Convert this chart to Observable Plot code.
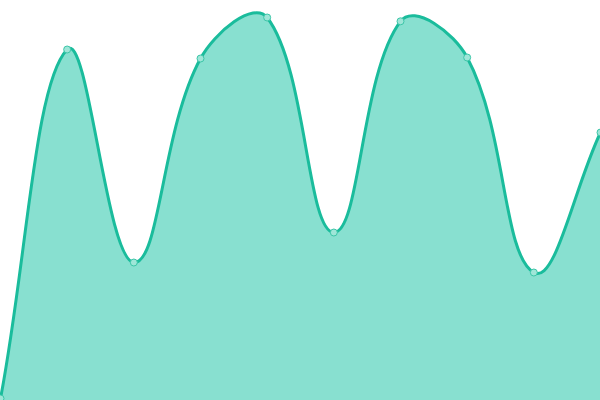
<!DOCTYPE html>
<html>
<head>
<meta charset="utf-8">
<script src="https://cdn.jsdelivr.net/npm/d3@7"></script>
<script src="https://cdn.jsdelivr.net/npm/@observablehq/plot@0.6"></script>
<style>
  html, body { margin: 0; padding: 0; background: #fff; }
  #chart svg { display: block; }
</style>
</head>
<body>
<div id="chart"></div>
<script>
const indices = [0, 1, 2, 3, 4, 5, 6, 7, 8, 9];
const values = [0.5, 87.75, 34.5, 85.5, 95.75, 42, 94.8, 85.75, 32, 67];

const data = indices.map((i, k) => ({ i, v: values[k] }));

const W = 600, H = 400, TENSION = 0.4;

// Distance-weighted cardinal spline (as used by canvas charting libs), with control points capped to the plot area
class WeightedSpline {
  constructor(context) { this._context = context; }
  areaStart() { this._line = 0; }
  areaEnd() { this._line = NaN; }
  lineStart() { this._pts = []; }
  point(x, y) { this._pts.push([+x, +y]); }
  lineEnd() {
    const p = this._pts, n = p.length, c = this._context;
    if (n) {
      const cap = (q) => [Math.max(0, Math.min(W, q[0])), Math.max(0, Math.min(H, q[1]))];
      const ctrl = p.map((cur, i) => {
        const prev = i > 0 ? p[i - 1] : cur;
        const next = i < n - 1 ? p[i + 1] : cur;
        const d01 = Math.hypot(cur[0] - prev[0], cur[1] - prev[1]);
        const d12 = Math.hypot(next[0] - cur[0], next[1] - cur[1]);
        let s01 = d01 / (d01 + d12), s12 = d12 / (d01 + d12);
        if (isNaN(s01)) s01 = 0;
        if (isNaN(s12)) s12 = 0;
        const fa = TENSION * s01, fb = TENSION * s12;
        const dx = next[0] - prev[0], dy = next[1] - prev[1];
        return {
          prev: cap([cur[0] - fa * dx, cur[1] - fa * dy]),
          next: cap([cur[0] + fb * dx, cur[1] + fb * dy])
        };
      });
      if (this._line) c.lineTo(p[0][0], p[0][1]); else c.moveTo(p[0][0], p[0][1]);
      for (let i = 1; i < n; i++) {
        const a = ctrl[i - 1].next, b = ctrl[i].prev;
        c.bezierCurveTo(a[0], a[1], b[0], b[1], p[i][0], p[i][1]);
      }
    }
    if (this._line || (this._line !== 0 && n === 1)) c.closePath();
    this._line = 1 - this._line;
  }
}
const splineCurve = (context) => new WeightedSpline(context);

const chart = Plot.plot({
  width: W,
  height: H,
  margin: 0,
  x: { domain: [0, 9], axis: null },
  y: { domain: [0, 100], axis: null },
  marks: [
    Plot.areaY(data, { x: "i", y: "v", curve: splineCurve, fill: "#88e0d0" }),
    Plot.lineY(data, { x: "i", y: "v", curve: splineCurve, stroke: "#1abc9c", strokeWidth: 3 }),
    Plot.dot(data, { x: "i", y: "v", r: 3.5, fill: "#9fe6d8", stroke: "#3cc6a8", strokeWidth: 1 })
  ]
});
document.getElementById("chart").appendChild(chart);
</script>
</body>
</html>
